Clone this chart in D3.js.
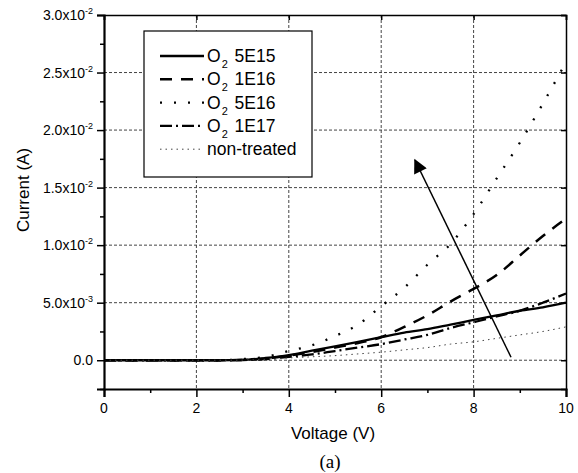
<!DOCTYPE html>
<html>
<head>
<meta charset="utf-8">
<script src="https://cdn.jsdelivr.net/npm/d3@7"></script>
<style>
  body { margin: 0; background: #fff; }
  text { font-family: "Liberation Sans", Arial, sans-serif; fill: #000; }
</style>
</head>
<body>
<div id="chart"></div>
<script>
// data (V in volts, I in amps)
const voltage = [0, 1, 2, 2.5, 3, 3.5, 4, 4.5, 5, 5.5, 6, 6.5, 7, 7.5, 8, 8.5, 9, 9.5, 10];
const o2_5e15 = [0, 0, 0, 0, 0.00003, 0.0002, 0.00045, 0.00083, 0.0012, 0.0016, 0.002, 0.0024, 0.0027, 0.0031, 0.0035, 0.0039, 0.0043, 0.0046, 0.005];
const o2_1e16 = [0, 0, 0, 0, 0.00003, 0.00015, 0.0004, 0.0007, 0.0011, 0.0015, 0.002, 0.0029, 0.0039, 0.0051, 0.0062, 0.0074, 0.0091, 0.0108, 0.0123];
const o2_5e16 = [0, 0, 0, 0, 0.0001, 0.0003, 0.0008, 0.0013, 0.0021, 0.0031, 0.0047, 0.0063, 0.0083, 0.0101, 0.0127, 0.0158, 0.0189, 0.0223, 0.0259];
const o2_1e17 = [0, 0, 0, 0, 0.00002, 0.0001, 0.0003, 0.0005, 0.0008, 0.0011, 0.0014, 0.0018, 0.0022, 0.0028, 0.0033, 0.0038, 0.0043, 0.005, 0.0058];
const nonTreated = [0, 0, 0, 0, 0.00001, 0.00008, 0.0002, 0.0003, 0.0004, 0.00055, 0.0007, 0.0009, 0.0011, 0.0014, 0.0016, 0.0019, 0.0022, 0.0025, 0.0029];

const xTicks = [0, 2, 4, 6, 8, 10];
const yTicks = [0, 0.005, 0.01, 0.015, 0.02, 0.025, 0.03];
const yTickLabels = ["0.0", "5.0x10|-3", "1.0x10|-2", "1.5x10|-2", "2.0x10|-2", "2.5x10|-2", "3.0x10|-2"];
const seriesNames = ["O2 5E15", "O2 1E16", "O2 5E16", "O2 1E17", "non-treated"];
const arrowFrom = [8.81, 0.00026];
const arrowTo = [6.73, 0.0174];

const width = 578, height = 473;

// styles of each series
const styles = [
  { w: 2.3, dash: null, color: "#000" },
  { w: 2.5, dash: "12,9", color: "#000" },
  { w: 2.3, dash: "2,12", color: "#000" },
  { w: 2.3, dash: "12,4,2,4", color: "#000" },
  { w: 1, dash: "1.5,4", color: "#444" }
];
const allSeries = [o2_5e15, o2_1e16, o2_5e16, o2_1e17, nonTreated];

const xScale = d3.scaleLinear().domain([0, 10]).range([104, 566]);
const yScale = d3.scaleLinear().domain([-0.0025, 0.03]).range([389, 15]);

const svg = d3.select("#chart").append("svg")
  .attr("width", width).attr("height", height);

// grid
const grid = svg.append("g");
grid.selectAll(".gx").data(xTicks.slice(1, -1)).enter().append("line")
  .attr("x1", (d) => xScale(d)).attr("x2", (d) => xScale(d))
  .attr("y1", yScale(0.03)).attr("y2", yScale(-0.0025))
  .attr("stroke", "#444").attr("stroke-dasharray", "3,2").attr("stroke-width", 1);
grid.selectAll(".gy").data(yTicks.slice(0, -1)).enter().append("line")
  .attr("x1", xScale(0)).attr("x2", xScale(10))
  .attr("y1", (d) => yScale(d)).attr("y2", (d) => yScale(d))
  .attr("stroke", "#444").attr("stroke-dasharray", "3,2").attr("stroke-width", 1);

// curves
const line = d3.line()
  .x((d, i) => xScale(voltage[i]))
  .y((d) => yScale(d))
  .curve(d3.curveMonotoneX);

allSeries.forEach((s, k) => {
  svg.append("path")
    .datum(s)
    .attr("d", line)
    .attr("fill", "none")
    .attr("stroke", styles[k].color)
    .attr("stroke-width", styles[k].w)
    .attr("stroke-dasharray", styles[k].dash);
});

// arrow
svg.append("defs").append("marker")
  .attr("id", "head")
  .attr("viewBox", "0 0 10 10")
  .attr("refX", 9).attr("refY", 5)
  .attr("markerWidth", 17).attr("markerHeight", 14)
  .attr("markerUnits", "userSpaceOnUse")
  .attr("orient", "auto")
  .append("path").attr("d", "M0,0 L10,5 L0,10 z").attr("fill", "#000");
svg.append("line")
  .attr("x1", xScale(arrowFrom[0])).attr("y1", yScale(arrowFrom[1]))
  .attr("x2", xScale(arrowTo[0])).attr("y2", yScale(arrowTo[1]))
  .attr("stroke", "#000").attr("stroke-width", 1.5)
  .attr("marker-end", "url(#head)");

// axes
const xAxis = d3.axisBottom(xScale).tickValues(xTicks).tickSize(8).tickFormat("");
const xMinor = d3.axisBottom(xScale).tickValues([1, 3, 5, 7, 9]).tickSize(4).tickFormat("");
const yAxis = d3.axisLeft(yScale).tickValues(yTicks).tickSize(7).tickFormat("");
const yMinor = d3.axisLeft(yScale).tickValues([-0.0025, 0.0025, 0.0075, 0.0125, 0.0175, 0.0225, 0.0275]).tickSize(4).tickFormat("");
const xTop = d3.axisBottom(xScale).tickValues(xTicks).tickSize(5).tickFormat("");
const yRight = d3.axisLeft(yScale).tickValues(yTicks).tickSize(5).tickFormat("");

function styleAxis(g, w) {
  g.selectAll(".domain").attr("stroke", "#000").attr("stroke-width", w);
  g.selectAll(".tick line").attr("stroke", "#000").attr("stroke-width", 1.5);
}
svg.append("g").attr("transform", `translate(0,${yScale(-0.0025)})`).call(xMinor).call(styleAxis, 0);
svg.append("g").attr("transform", `translate(${xScale(0)},0)`).call(yMinor).call(styleAxis, 0);
svg.append("g").attr("transform", `translate(0,${yScale(0.03)})`).call(xTop).call(styleAxis, 1.5);
svg.append("g").attr("transform", `translate(${xScale(10)},0)`).call(yRight).call(styleAxis, 1.5)
  .selectAll(".tick line").attr("x2", 0).attr("x1", -5);
svg.append("g").attr("transform", `translate(0,${yScale(-0.0025)})`).call(xAxis).call(styleAxis, 2.2);
svg.append("g").attr("transform", `translate(${xScale(0)},0)`).call(yAxis).call(styleAxis, 2.2);

// tick labels
svg.selectAll(".xl").data(xTicks).enter().append("text")
  .attr("x", (d) => xScale(d)).attr("y", 413)
  .attr("text-anchor", "middle").style("font-size", "14px")
  .text((d) => d);

const yl = svg.selectAll(".yl").data(yTicks).enter().append("text")
  .attr("x", 93).attr("y", (d) => yScale(d) + 5)
  .attr("text-anchor", "end").style("font-size", "14px");
yl.each(function (d, i) {
  const parts = yTickLabels[i].split("|");
  const t = d3.select(this);
  t.append("tspan").text(parts[0]);
  if (parts[1]) {
    t.append("tspan").attr("dy", -6).style("font-size", "9px").text(parts[1]);
  }
});

// axis titles
svg.append("text").attr("x", 333).attr("y", 439)
  .attr("text-anchor", "middle").style("font-size", "17px").text("Voltage (V)");
svg.append("text")
  .attr("transform", "translate(29,190) rotate(-90)")
  .attr("text-anchor", "middle").style("font-size", "17px").text("Current (A)");
svg.append("text").attr("x", 330).attr("y", 468)
  .attr("text-anchor", "middle")
  .style("font-family", "'Liberation Serif', 'Times New Roman', serif")
  .style("font-size", "19px").text("(a)");

// legend
const legend = svg.append("g");
legend.append("rect")
  .attr("x", 144).attr("y", 31).attr("width", 168).attr("height", 146)
  .attr("fill", "#fff").attr("stroke", "#000").attr("stroke-width", 1.2);
seriesNames.forEach((name, k) => {
  const y = 56 + k * 23.3;
  legend.append("line")
    .attr("x1", 160).attr("x2", 204).attr("y1", y).attr("y2", y)
    .attr("stroke", styles[k].color)
    .attr("stroke-width", styles[k].w)
    .attr("stroke-dasharray", styles[k].dash);
  const t = legend.append("text").attr("x", 207).attr("y", y + 6).style("font-size", "17.5px");
  if (name.startsWith("O2")) {
    t.append("tspan").text("O");
    t.append("tspan").attr("dy", 6).attr("dx", 1).style("font-size", "11px").text("2");
    t.append("tspan").attr("dy", -6).attr("dx", 2).text(" " + name.slice(3));
  } else {
    t.text(name);
  }
});
</script>
</body>
</html>
